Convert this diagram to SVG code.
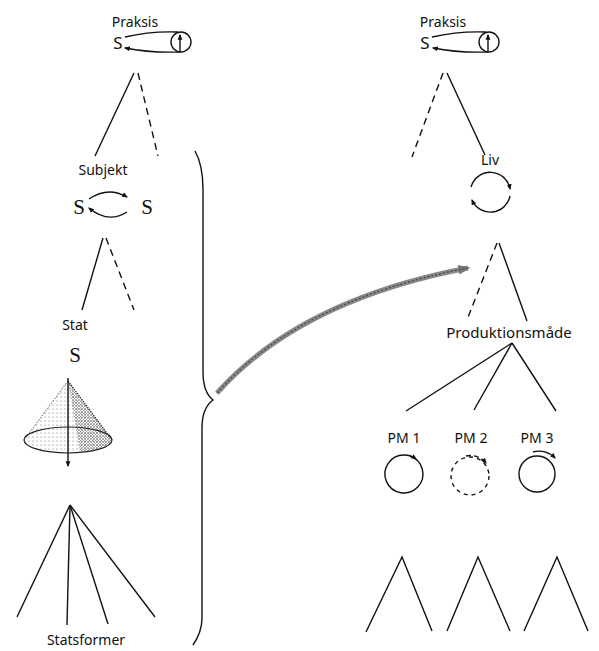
<svg xmlns="http://www.w3.org/2000/svg" width="599" height="651" viewBox="0 0 599 651">
<style>
.t{font-family:"Noto Sans","Open Sans",sans-serif;font-size:14px;fill:#111;text-anchor:middle}
.s{font-family:"Liberation Serif",serif;font-size:21px;fill:#111;text-anchor:middle}
.ln{stroke:#111;stroke-width:1.4;fill:none}
.ds{stroke:#111;stroke-width:1.4;fill:none;stroke-dasharray:7 5}
</style>
<defs>
<marker id="ah" viewBox="0 0 10 10" refX="8" refY="5" markerWidth="6" markerHeight="6" orient="auto" markerUnits="userSpaceOnUse">
<path d="M0,1 L10,5 L0,9 z" fill="#111"/>
</marker>
<marker id="big" viewBox="0 0 10 10" refX="8" refY="5" markerWidth="14" markerHeight="12" orient="auto" markerUnits="userSpaceOnUse">
<path d="M0,1 L10,5 L0,9 z" fill="#777"/>
</marker>
<pattern id="dl" width="4" height="4" patternUnits="userSpaceOnUse">
<circle cx="1" cy="1" r="0.6" fill="#666"/>
</pattern>
<pattern id="dd" width="3" height="3" patternUnits="userSpaceOnUse">
<circle cx="1" cy="1" r="0.8" fill="#444"/>
<circle cx="2.5" cy="2.5" r="0.5" fill="#777"/>
</pattern>
</defs>

<g id="connectors">
<!-- left Praksis tree -->
<line class="ln" x1="134" y1="73" x2="95" y2="156"/>
<line class="ds" x1="138" y1="73" x2="158" y2="156"/>
<!-- Subjekt tree -->
<line class="ln" x1="103" y1="238" x2="82" y2="310"/>
<line class="ds" x1="106" y1="238" x2="134" y2="310"/>
<!-- Statsformer fan -->
<line class="ln" x1="70" y1="505" x2="17" y2="617"/>
<line class="ln" x1="70" y1="505" x2="67" y2="625"/>
<line class="ln" x1="70" y1="505" x2="108" y2="624"/>
<line class="ln" x1="70" y1="505" x2="155" y2="617"/>
<!-- right Praksis tree -->
<line class="ds" x1="443" y1="73" x2="412" y2="157"/>
<line class="ln" x1="447" y1="73" x2="485" y2="155"/>
<!-- Liv tree -->
<line class="ds" x1="497" y1="243" x2="467" y2="320"/>
<line class="ln" x1="499" y1="243" x2="527" y2="321"/>
<!-- Produktionsmåde fan -->
<line class="ln" x1="512" y1="343" x2="406" y2="411"/>
<line class="ln" x1="512" y1="343" x2="474" y2="410"/>
<line class="ln" x1="512" y1="343" x2="556" y2="411"/>
<!-- bottom trees -->
<polyline class="ln" points="366,632 402,557 432,631"/>
<polyline class="ln" points="447,631 478,557 510,631"/>
<polyline class="ln" points="524,631 557,557 588,631"/>
<!-- brace -->
<path class="ln" d="M195,151 Q203,165 203,190 L203,372 Q203,392 213,400 Q202,408 202,428 L202,618 Q202,632 193,645"/>
<!-- big arrow -->
<path d="M217,393 Q300,300 468,268" fill="none" stroke="#888" stroke-width="5" marker-end="url(#big)"/>
<path d="M217,393 Q300,300 468,268" fill="none" stroke="#444" stroke-width="1.2" stroke-dasharray="2 2"/>
</g>

<g id="praksis-left">
<text class="t" x="135" y="27">Praksis</text>
<text class="t" x="118" y="49" style="font-size:17px">S</text>
<path class="ln" d="M125,37 Q150,31 178,32"/>
<circle class="ln" cx="181" cy="42" r="10"/>
<path class="ln" d="M180,52 Q150,53 125,48" marker-end="url(#ah)"/>
<line class="ln" x1="180" y1="52" x2="180" y2="35" marker-end="url(#ah)"/>
</g>

<g id="subjekt">
<text class="t" x="103" y="175">Subjekt</text>
<text class="s" x="79" y="214">S</text>
<text class="s" x="147" y="214">S</text>
<path class="ln" d="M89,199 Q108,186 127,197" marker-end="url(#ah)"/>
<path class="ln" d="M127,212 Q108,224 89,208" marker-end="url(#ah)"/>
</g>

<g id="stat">
<text class="t" x="75" y="330">Stat</text>
<text class="s" x="75" y="362">S</text>
<path d="M68,381 L24,440 A44,13 0 0 0 112,440 Z" fill="url(#dl)"/>
<path d="M68,381 L112,440 A44,13 0 0 1 80,452 Z" fill="url(#dd)"/>
<line x1="68" y1="381" x2="24" y2="440" stroke="#555" stroke-width="1" stroke-dasharray="1.5 1.5"/>
<line x1="68" y1="381" x2="112" y2="440" stroke="#333" stroke-width="1.3" stroke-dasharray="1.5 1"/>
<ellipse cx="68" cy="440" rx="44" ry="13" fill="none" stroke="#222" stroke-width="1.2"/>
<line class="ln" x1="68" y1="378" x2="68" y2="466" marker-end="url(#ah)"/>
<text class="t" x="86" y="645">Statsformer</text>
</g>

<g id="praksis-right">
<text class="t" x="443" y="27">Praksis</text>
<text class="t" x="425" y="49" style="font-size:17px">S</text>
<path class="ln" d="M432,37 Q458,31 486,32"/>
<circle class="ln" cx="489" cy="42" r="10"/>
<path class="ln" d="M488,52 Q458,53 433,48" marker-end="url(#ah)"/>
<line class="ln" x1="488" y1="52" x2="488" y2="35" marker-end="url(#ah)"/>
</g>

<g id="liv">
<text class="t" x="490" y="165">Liv</text>
<path class="ln" d="M471,187 A20,20 0 0 1 510,189" marker-end="url(#ah)"/>
<path class="ln" d="M510,196 A20,20 0 0 1 472,200" marker-end="url(#ah)"/>
</g>

<g id="produktionsmaade">
<text class="t" x="509" y="338" style="font-size:15px">Produktionsmåde</text>
</g>

<g id="pm1">
<text class="t" x="404" y="443">PM 1</text>
<path class="ln" d="M410,456 A19,19 0 1 1 404,455"/>
<path class="ln" d="M404,455 A19,19 0 0 1 416,459" marker-end="url(#ah)"/>
</g>
<g id="pm2">
<text class="t" x="471" y="443">PM 2</text>
<circle cx="470" cy="476" r="19" fill="none" stroke="#111" stroke-width="1.4" stroke-dasharray="4 4"/>
<path class="ln" d="M466,456 A20,20 0 0 1 486,463" stroke-dasharray="5 3" marker-end="url(#ah)"/>
</g>
<g id="pm3">
<text class="t" x="537" y="443">PM 3</text>
<circle class="ln" cx="537" cy="474" r="18"/>
<path class="ln" d="M533,452 A22,22 0 0 1 555,458" marker-end="url(#ah)"/>
</g>
</svg>
